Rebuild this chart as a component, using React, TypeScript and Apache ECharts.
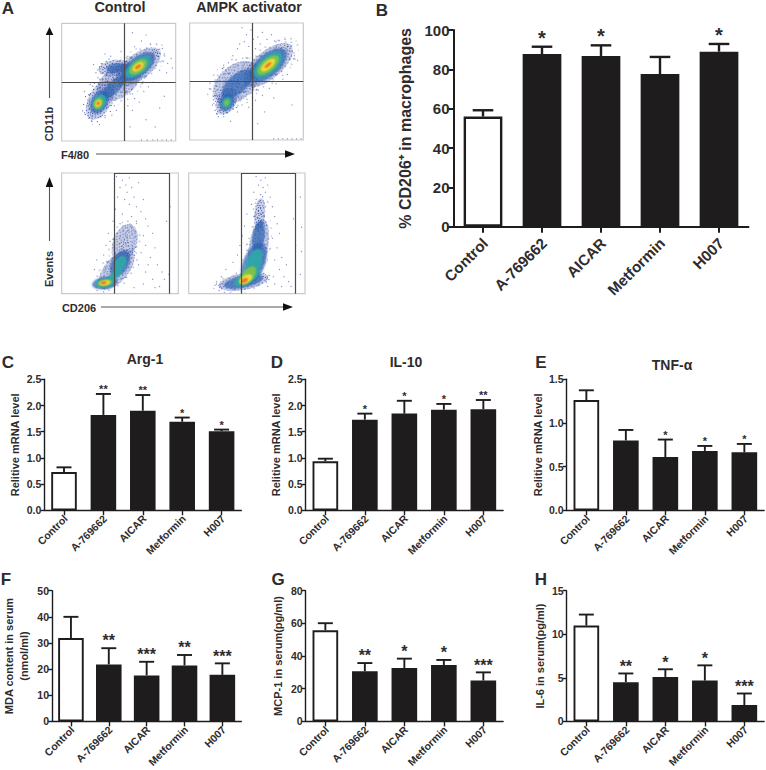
import React, { useEffect, useRef } from "react";
import * as echarts from "echarts";

const FONT = "'Liberation Sans', Arial, sans-serif";
const INK = "#1e1c1d";
const TEXT = "#2e2c2d";

const categories = ["Control", "A-769662", "AICAR", "Metformin", "H007"];

const meansB = [56, 87.8, 86.8, 77.6, 89];
const topsB = [59.2, 91.5, 92.2, 86.3, 92.9];
const starsB = ["", "*", "*", "", "*"];

const meansC = [0.73, 1.82, 1.9, 1.69, 1.51];
const topsC = [0.82, 2.22, 2.2, 1.77, 1.54];
const starsC = ["", "**", "**", "*", "*"];

const meansD = [0.935, 1.73, 1.845, 1.92, 1.93];
const topsD = [0.985, 1.845, 2.09, 2.03, 2.105];
const starsD = ["", "*", "*", "*", "**"];

const meansE = [1.263, 0.8, 0.61, 0.68, 0.664];
const topsE = [1.374, 0.92, 0.81, 0.737, 0.76];
const starsE = ["", "", "*", "*", "*"];

const meansF = [31.9, 21.8, 17.6, 21.4, 17.8];
const topsF = [40, 28, 22.8, 25.4, 22.2];
const starsF = ["", "**", "***", "**", "***"];

const meansG = [55.8, 30.7, 32.7, 34.5, 25];
const topsG = [60.1, 35.7, 38.4, 37.6, 30];
const starsG = ["", "**", "*", "*", "***"];

const meansH = [11, 4.5, 5.1, 4.68, 1.87];
const topsH = [12.26, 5.5, 5.98, 6.43, 3.2];
const starsH = ["", "**", "*", "*", "***"];

// density colours of the flow plots, sparse to dense
const densityLevels = ["#3f55aa", "#2b60b0", "#2fa6a8", "#7dc24c", "#eedb3a", "#e8792c"];

// x%, y%, x radius, y radius, angle, density level
const blobsF480Control = [
  [33.6, 34.8, 19, 10, 63, 0], [50, 50, 22, 13, 35, 0], [47, 62, 15, 7, 5, 0], [67, 63, 24, 11, 38, 0],
  [48, 62, 9, 4, 5, 1], [46, 46, 13, 5, 45, 1], [33, 33, 11, 7, 60, 1], [67, 63, 18, 8, 38, 1], [33, 33, 7, 5, 60, 2],
  [67, 63, 13, 6, 38, 2], [32, 32, 5, 3.5, 60, 3], [67, 63, 9, 4.5, 38, 3], [32, 32, 3.2, 2.2, 60, 4],
  [67, 63, 5.5, 2.8, 38, 4], [32, 32, 1.6, 1.1, 60, 5], [67, 63, 3, 1.2, 38, 5],
];
const blobsF480Activator = [
  [32.5, 33, 13, 8, 60, 0], [41, 49, 24, 15, 40, 0], [69, 64, 27, 12, 40, 0], [69, 64, 20, 9.5, 40, 1],
  [42, 48, 17, 8, 42, 1], [32.5, 32, 8, 6, 60, 1], [69, 64, 15, 7, 40, 2], [32.5, 32, 5, 3.5, 60, 2],
  [69, 64, 11.5, 5, 40, 3], [32.5, 32, 2.5, 2, 60, 3], [69, 64, 7.5, 3, 40, 4], [69, 64, 3.5, 1, 40, 5],
];
const blobsCd206Control = [
  [54, 42, 17, 10, 70, 0], [47, 20, 21, 10, 50, 0], [37, 9, 11, 5, 10, 1], [50, 25, 12, 7, 60, 1],
  [50, 25, 7, 4, 60, 2], [46, 16, 7, 3, 45, 2], [37, 9, 8, 3.5, 10, 2], [37, 9, 6, 2.5, 10, 3],
  [37, 9, 4.5, 1.8, 10, 4], [36, 9, 2.5, 1, 10, 5],
];
const blobsCd206Activator = [
  [61, 66, 14, 4.5, 85, 0], [60, 39, 24, 8, 80, 0], [47, 10, 22, 7, 10, 0], [60, 47, 14, 5, 82, 1], [56, 25, 19, 9, 68, 1],
  [47, 10, 17, 5, 12, 1], [56, 25, 13, 5.5, 70, 2], [50, 13, 12, 4.5, 30, 2], [51, 15, 9, 4.5, 50, 3],
  [49, 12, 6, 3, 30, 4], [48, 11, 3, 1.5, 25, 5],
];

// outlying events of each flow plot, x% and y%
const dotsF480Control = [
  [62, 92], [70, 85], [74, 90], [78, 82], [81, 76], [84, 72], [86, 78], [88, 68], [90, 74], [93, 66], [96, 70], [83, 64],
  [86, 60], [92, 58], [97, 62], [78, 70], [72, 75], [64, 80], [58, 72], [66, 72], [60, 40], [64, 36], [68, 33], [58, 30],
  [55, 38], [62, 26], [72, 42], [76, 46], [80, 50], [46, 30], [44, 22], [48, 26], [25, 48], [20, 42], [22, 30], [36, 52],
  [30, 58], [28, 65], [38, 74], [43, 72], [52, 76], [20, 24], [26, 17], [33, 14], [38, 20], [70, 1], [75, 1], [80, 1],
  [84, 1], [88, 1], [92, 1], [96, 1], [86, 28], [74, 18], [82, 12], [60, 12], [90, 38],
];
const dotsF480Activator = [
  [46, 96], [50, 90], [54, 94], [44, 82], [48, 84], [56, 86], [60, 88], [64, 92], [68, 86], [72, 90], [76, 84], [42, 78],
  [52, 80], [58, 78], [62, 82], [86, 80], [90, 76], [88, 70], [92, 72], [95, 68], [84, 86], [80, 78], [38, 72], [34, 66],
  [30, 62], [26, 54], [24, 46], [22, 38], [20, 30], [24, 22], [30, 20], [36, 16], [42, 24], [46, 30], [52, 28], [58, 34],
  [64, 38], [70, 44], [76, 48], [82, 52], [86, 56], [74, 36], [66, 24], [60, 14], [74, 1], [78, 1], [82, 1], [86, 1],
  [90, 1], [94, 1], [98, 1], [90, 30],
];
const dotsCd206Control = [
  [47, 97], [52, 94], [55, 90], [58, 96], [50, 88], [56, 84], [60, 88], [62, 80], [66, 92], [54, 78], [48, 80], [64, 72],
  [58, 74], [68, 68], [72, 62], [74, 56], [70, 78], [78, 50], [80, 38], [76, 30], [82, 24], [86, 18], [88, 12], [92, 16],
  [90, 60], [93, 72], [46, 70], [44, 60], [40, 50], [38, 40], [36, 32], [30, 28], [28, 20], [70, 48], [72, 40], [68, 34],
  [66, 24], [72, 18], [78, 12], [70, 8], [62, 5], [80, 5], [84, 6], [52, 66], [60, 64], [64, 60], [50, 58], [74, 24],
];
const dotsCd206Activator = [
  [58, 97], [62, 94], [66, 96], [60, 90], [64, 88], [68, 90], [56, 84], [62, 82], [66, 84], [70, 80], [58, 78], [68, 76],
  [72, 72], [54, 74], [74, 64], [76, 58], [78, 50], [50, 66], [48, 56], [46, 48], [44, 40], [42, 32], [38, 26], [32, 20],
  [28, 14], [24, 8], [76, 38], [80, 30], [84, 24], [78, 20], [82, 14], [86, 10], [88, 6], [74, 8], [96, 80], [97, 55],
  [97, 35], [96, 16], [92, 40], [90, 62], [66, 72], [56, 64], [72, 46], [50, 36], [46, 28], [74, 28], [68, 6], [80, 6],
];

// speckle tiles for the sparse outer part of the flow clouds (pixel cells of a 24px tile)
const sparseTile = [
  [1, 2], [6, 0], [11, 3], [17, 1], [22, 4], [3, 7], [9, 8], [14, 6], [20, 9], [0, 12], [6, 13], [12, 11], [18, 14],
  [23, 11], [4, 17], [10, 18], [15, 16], [21, 19], [2, 22], [8, 21], [13, 23], [19, 22],
];
const denseTile = [
  [0, 0], [3, 1], [5, 0], [8, 2], [11, 0], [13, 2], [16, 1], [19, 0], [21, 2], [23, 1], [1, 3], [6, 3], [10, 4], [15, 3],
  [18, 4], [22, 4], [3, 5], [7, 6], [12, 6], [14, 5], [20, 6], [0, 7], [5, 8], [9, 7], [17, 7], [23, 8], [2, 9], [11, 9],
  [14, 9], [19, 9], [21, 10], [4, 11], [7, 10], [9, 11], [16, 11], [1, 12], [12, 12], [18, 12], [23, 12], [3, 14], [6, 13],
  [10, 14], [15, 14], [20, 14], [0, 15], [8, 16], [13, 16], [17, 15], [22, 16], [2, 17], [5, 17], [11, 18], [19, 17],
  [1, 19], [7, 19], [14, 19], [16, 18], [21, 19], [4, 20], [10, 21], [18, 20], [23, 20], [0, 22], [3, 22], [6, 22], [12, 22],
  [15, 21], [20, 22], [8, 23], [17, 23], [22, 23],
];

const barPanels = [
  { m: meansB, t: topsB, s: starsB, max: 100, step: 20, dec: 0, name: "% CD206\u207A in macrophages", box: [453.5, 30, 295, 196.7], big: true, starSize: 20, gap: 41 },
  { m: meansC, t: topsC, s: starsC, max: 2.5, step: 0.5, dec: 1, name: "Relitive mRNA level", box: [44.3, 379.3, 197, 131], starSize: 11, gap: 22 },
  { m: meansD, t: topsD, s: starsD, max: 2.5, step: 0.5, dec: 1, name: "Relitive mRNA level", box: [305.6, 379.3, 197.5, 131], starSize: 11, gap: 22 },
  { m: meansE, t: topsE, s: starsE, max: 1.5, step: 0.5, dec: 1, name: "Relitive mRNA level", box: [566.6, 379.3, 197.5, 131], starSize: 11, gap: 21 },
  { m: meansF, t: topsF, s: starsF, max: 50, step: 10, dec: 0, name: "MDA content in serum\n(nmol/ml)", box: [44.3, 590.7, 197, 131.3], starSize: 16, gap: 21 },
  { m: meansG, t: topsG, s: starsG, max: 80, step: 20, dec: 0, name: "MCP-1 in serum(pg/ml)", box: [305.6, 590.7, 197.5, 131.3], starSize: 16, gap: 20 },
  { m: meansH, t: topsH, s: starsH, max: 15, step: 5, dec: 0, name: "IL-6 in serum(pg/ml)", box: [566.6, 590.7, 197.5, 131.3], starSize: 16, gap: 19 },
];

const flowPanels = [
  { blobs: blobsF480Control, dots: dotsF480Control, box: [61.7, 23.3, 114, 117.7], gate: null, cross: [55, 50] },
  { blobs: blobsF480Activator, dots: dotsF480Activator, box: [189.7, 23, 113.6, 117], gate: null, cross: [55.1, 50.4] },
  { blobs: blobsCd206Control, dots: dotsCd206Control, box: [61.7, 173, 116.6, 120.7], gate: [45.1, 92.6], cross: null },
  { blobs: blobsCd206Activator, dots: dotsCd206Activator, box: [188.7, 173, 116.3, 120.7], gate: [45.3, 92], cross: null },
];

function makeTile(cells: number[][], colour: string) {
  const c = document.createElement("canvas");
  c.width = 24;
  c.height = 24;
  const g = c.getContext("2d")!;
  g.fillStyle = colour;
  cells.forEach(([x, y]) => g.fillRect(x, y, 1, 1));
  return c;
}

function label(text: string, x: number, y: number, size: number, extra: any = {}) {
  return {
    type: "text", x, y, rotation: extra.rotation || 0,
    style: { text, fill: TEXT, font: `bold ${size}px ${FONT}`, textAlign: extra.align || "center", textVerticalAlign: "middle" },
  };
}
function arrow(x1: number, y1: number, x2: number, y2: number, tipX: number, tipY: number) {
  const vertical = x1 === x2;
  const points = vertical
    ? [[tipX, tipY], [tipX - 3.8, y2], [tipX + 3.8, y2]]
    : [[tipX, tipY], [x2, tipY - 3.8], [x2, tipY + 3.8]];
  return [
    { type: "line", shape: { x1, y1, x2, y2 }, style: { stroke: "#555", lineWidth: 1.1 } },
    { type: "polygon", shape: { points }, style: { fill: "#111" } },
  ];
}

function buildOption() {
  const grid: any[] = [], xAxis: any[] = [], yAxis: any[] = [], series: any[] = [];
  const sparse = { image: makeTile(sparseTile, "#4257ad"), repeat: "repeat" };
  const dense = { image: makeTile(denseTile, "#3a50a8"), repeat: "repeat" };

  flowPanels.forEach((p, i) => {
    grid.push({ left: p.box[0], top: p.box[1], width: p.box[2], height: p.box[3], show: true, borderColor: "#c9c9c9", borderWidth: 1.2, backgroundColor: "#fff" });
    xAxis.push({ type: "value", gridIndex: i, min: 0, max: 100, show: false });
    yAxis.push({ type: "value", gridIndex: i, min: 0, max: 100, show: false });
    series.push({
      type: "custom", xAxisIndex: i, yAxisIndex: i, coordinateSystem: "cartesian2d", silent: true, clip: true, data: p.blobs,
      renderItem: (_: any, api: any) => {
        const c = api.coord([api.value(0), api.value(1)]);
        const s = api.size([api.value(2), api.value(3)]);
        const lvl = api.value(5);
        const rotation = (api.value(4) * Math.PI) / 180;
        if (lvl === 0) {
          return {
            type: "group", x: c[0], y: c[1], rotation,
            children: [
              { type: "ellipse", shape: { cx: 0, cy: 0, rx: s[0] * 1.22, ry: s[1] * 1.3 }, style: { fill: sparse } },
              { type: "ellipse", shape: { cx: 0, cy: 0, rx: s[0], ry: s[1] }, style: { fill: dense } },
              { type: "ellipse", shape: { cx: 0, cy: 0, rx: s[0] * 0.98, ry: s[1] * 0.98 }, style: { fill: densityLevels[0], opacity: 0.28 } },
            ],
          };
        }
        return {
          type: "ellipse", x: c[0], y: c[1], rotation,
          shape: { cx: 0, cy: 0, rx: s[0], ry: s[1] },
          style: { fill: densityLevels[lvl], opacity: lvl === 1 ? 0.45 : 0.85, shadowBlur: 2.5, shadowColor: densityLevels[lvl] },
        };
      },
    });
    const lines: any[] = [];
    if (p.cross) {
      lines.push({ xAxis: p.cross[0] }, { yAxis: p.cross[1] });
    }
    if (p.gate) {
      lines.push({ xAxis: p.gate[0] }, { xAxis: p.gate[1] });
      lines.push([{ coord: [p.gate[0], 100] }, { coord: [p.gate[1], 100] }]);
    }
    series.push({
      type: "scatter", xAxisIndex: i, yAxisIndex: i, silent: true, symbolSize: 1.2, data: p.dots,
      itemStyle: { color: "#4658a8", opacity: 0.7 },
      markLine: { silent: true, symbol: "none", label: { show: false }, lineStyle: { color: "#4a4a4a", width: 1.2, type: "solid" }, data: lines },
    });
  });

  barPanels.forEach((p, j) => {
    const i = j + flowPanels.length;
    const big = !!p.big;
    const outer = p.box[2] / 5 * 0.697;
    const border = big ? 2.4 : 1.9;
    grid.push({ left: p.box[0], top: p.box[1], width: p.box[2], height: p.box[3] });
    xAxis.push({
      type: "category", gridIndex: i, data: categories,
      axisLine: { lineStyle: { color: INK, width: big ? 2 : 1.4 } },
      axisTick: { show: true, alignWithLabel: true, length: big ? 6 : 5, lineStyle: { color: INK, width: big ? 2 : 1.4 } },
      axisLabel: { interval: 0, rotate: 45, color: TEXT, fontFamily: FONT, fontWeight: "bold", fontSize: big ? 15.2 : 10.5, margin: big ? 16 : 8.5, padding: [0, big ? -3 : -2.5, 0, 0] },
    });
    yAxis.push({
      type: "value", gridIndex: i, min: 0, max: p.max, interval: p.step,
      splitLine: { show: false },
      axisLine: { show: true, lineStyle: { color: INK, width: big ? 2 : 1.4 } },
      axisTick: { show: true, length: big ? 6 : 4, lineStyle: { color: INK, width: big ? 2 : 1.4 } },
      axisLabel: { color: TEXT, fontFamily: FONT, fontWeight: "bold", fontSize: big ? 15 : 10.5, margin: big ? 4 : 3, formatter: (v: number) => v.toFixed(p.dec) },
      name: p.name, nameLocation: "middle", nameGap: p.gap, nameRotate: 90,
      nameTextStyle: { color: TEXT, fontFamily: FONT, fontWeight: "bold", fontSize: big ? 16 : 11, lineHeight: 15 },
    });
    series.push({
      type: "bar", xAxisIndex: i, yAxisIndex: i, barWidth: outer - border, silent: true,
      data: p.m.map((v, k) => ({ value: v, itemStyle: { color: k === 0 ? "#fff" : INK, borderColor: INK, borderWidth: border } })),
    });
    series.push({
      type: "custom", xAxisIndex: i, yAxisIndex: i, coordinateSystem: "cartesian2d", silent: true, z: 5, clip: false,
      data: p.m.map((v, k) => [k, v, p.t[k]]),
      renderItem: (params: any, api: any) => {
        const a = api.coord([api.value(0), api.value(1)]);
        const b = api.coord([api.value(0), api.value(2)]);
        const hw = big ? 10.3 : 7.5;
        const w = big ? 2.4 : 1.9;
        const st = { stroke: INK, lineWidth: w };
        const children: any[] = [
          { type: "line", shape: { x1: a[0], y1: a[1], x2: b[0], y2: b[1] }, style: st },
          { type: "line", shape: { x1: a[0] - hw, y1: b[1], x2: a[0] + hw, y2: b[1] }, style: st },
        ];
        const star = p.s[params.dataIndex];
        if (star) {
          children.push({
            type: "text", x: a[0], y: b[1] - p.starSize * 0.45,
            style: { text: star, fill: TEXT, font: `bold ${p.starSize}px ${FONT}`, textAlign: "center", textVerticalAlign: "middle" },
          });
        }
        return { type: "group", children };
      },
    });
  });

  const graphic: any[] = [
    label("A", 8, 8, 17), label("B", 382, 10, 17), label("C", 8, 362, 17), label("D", 277, 362, 17),
    label("E", 541, 362, 17), label("F", 6, 579, 17), label("G", 278, 579, 17), label("H", 541, 579, 17),
    label("Control", 120, 7, 14.4), label("AMPK activator", 249, 7, 14.3),
    label("Arg-1", 145, 359, 14), label("IL-10", 406, 362, 14), label("TNF-\u03B1", 672, 364.5, 14),
    label("CD11b", 49, 124, 11, { rotation: Math.PI / 2 }), label("Events", 49, 269, 11, { rotation: Math.PI / 2 }),
    label("F4/80", 75, 155, 11), label("CD206", 79, 308, 11),
    ...arrow(49.5, 98, 49.5, 35, 49.5, 27),
    ...arrow(49.5, 241, 49.5, 187, 49.5, 177),
    ...arrow(96, 154, 285, 154, 295, 154),
    ...arrow(101, 307, 283, 307, 293, 307),
  ];

  return { animation: false, backgroundColor: "#fff", grid, xAxis, yAxis, series, graphic };
}

export default function App() {
  const ref = useRef<HTMLDivElement>(null);
  useEffect(() => {
    document.body.style.margin = "0";
    const chart = echarts.init(ref.current!, undefined, { renderer: "svg" });
    chart.setOption(buildOption() as any);
    return () => chart.dispose();
  }, []);
  return <div ref={ref} style={{ width: 766, height: 770 }} />;
}
